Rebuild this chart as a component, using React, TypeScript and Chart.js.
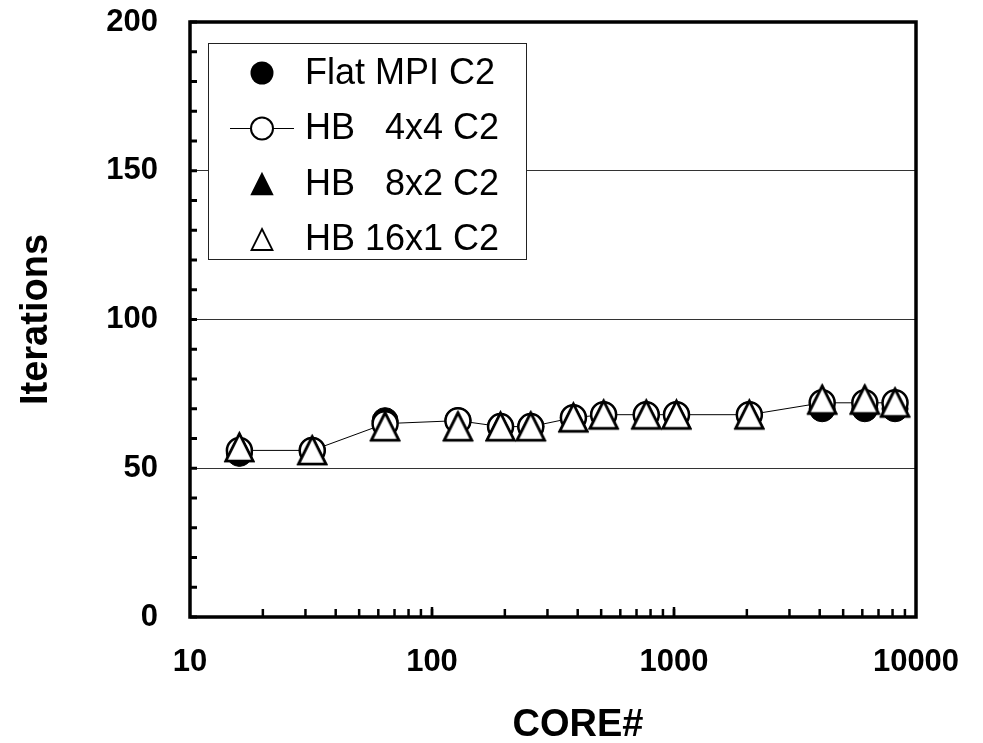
import React, { useEffect, useRef } from 'react';
import { Chart, registerables } from 'chart.js';

Chart.register(...registerables);

// ---- data ----
const cores = [16, 32, 64, 128, 192, 256, 384, 512, 768, 1024, 2048, 4096, 6144, 8192];
const flatMPI = [55, 56, 66, 66, 64, 64, 67, 68, 68, 68, 68, 70, 70, 70];
const hb4x4 = [56, 56, 65, 66, 64, 64, 67, 68, 68, 68, 68, 72, 72, 72];
const hb8x2 = [57, 56, 64, 64, 64, 64, 67, 68, 68, 68, 68, 73, 73, 72];
const hb16x1 = [57, 56, 64, 64, 64, 64, 67, 68, 68, 68, 68, 73, 73, 72];
const seriesNames = ['Flat MPI C2', 'HB   4x4 C2', 'HB   8x2 C2', 'HB 16x1 C2'];
const xTickValues = [10, 100, 1000, 10000];
const xTickLabels = ['10', '100', '1000', '10000'];
const yTickValues = [0, 50, 100, 150, 200];
const yTickLabels = ['0', '50', '100', '150', '200'];
const xTitle = 'CORE#';
const yTitle = 'Iterations';

const FONT = '"Liberation Sans", Arial, sans-serif';

function triangleCanvas(w: number, h: number, lw: number, filled: boolean, pad: number) {
  const c = document.createElement('canvas');
  c.width = w + pad * 2;
  c.height = h + pad * 2;
  const ctx = c.getContext('2d')!;
  ctx.beginPath();
  ctx.moveTo(pad + w / 2, pad);
  ctx.lineTo(pad + w, pad + h);
  ctx.lineTo(pad, pad + h);
  ctx.closePath();
  ctx.fillStyle = filled ? '#000' : '#fff';
  ctx.fill();
  ctx.lineWidth = lw;
  ctx.strokeStyle = '#000';
  ctx.lineJoin = 'miter';
  ctx.stroke();
  return c;
}

function drawTri(ctx: CanvasRenderingContext2D, cx: number, cy: number, w: number, h: number, filled: boolean, lw: number) {
  ctx.beginPath();
  ctx.moveTo(cx, cy - h / 2);
  ctx.lineTo(cx + w / 2, cy + h / 2);
  ctx.lineTo(cx - w / 2, cy + h / 2);
  ctx.closePath();
  ctx.fillStyle = filled ? '#000' : '#fff';
  ctx.fill();
  ctx.lineWidth = lw;
  ctx.strokeStyle = '#000';
  ctx.stroke();
}

const decorPlugin = {
  id: 'decor',
  beforeDraw(chart: any) {
    const { ctx, width, height } = chart;
    ctx.save();
    ctx.fillStyle = '#fff';
    ctx.fillRect(0, 0, width, height);
    ctx.restore();
  },
  afterDraw(chart: any) {
    const { ctx, chartArea: a, scales } = chart;
    const xs = scales.x;
    const ys = scales.y;
    ctx.save();
    ctx.strokeStyle = '#000';
    // y ticks (inward)
    ctx.lineWidth = 3;
    for (let v = ys.min; v <= ys.max; v += 10) {
      const py = ys.getPixelForValue(v);
      ctx.beginPath();
      ctx.moveTo(a.left, py);
      ctx.lineTo(a.left + 7, py);
      ctx.stroke();
    }
    // x ticks (inward, log minor)
    ctx.lineWidth = 2.5;
    for (let d = xs.min; d < xs.max; d *= 10) {
      for (let m = 1; m <= 10; m++) {
        const v = d * m;
        if (v <= xs.min || v >= xs.max) continue;
        const px = xs.getPixelForValue(v);
        const len = m === 10 ? 10 : 8;
        ctx.beginPath();
        ctx.moveTo(px, a.bottom);
        ctx.lineTo(px, a.bottom - len);
        ctx.stroke();
      }
    }
    // frame
    ctx.lineWidth = 3.5;
    ctx.strokeRect(a.left, a.top, a.right - a.left, a.bottom - a.top);

    // x axis title
    ctx.fillStyle = '#000';
    ctx.font = `bold 38px ${FONT}`;
    ctx.textAlign = 'center';
    ctx.textBaseline = 'middle';
    ctx.fillText(xTitle, 578, 726);

    // legend
    const bx = 208, by = 43, bw = 318, bh = 216;
    ctx.fillStyle = '#fff';
    ctx.fillRect(bx, by, bw, bh);
    ctx.lineWidth = 1;
    ctx.strokeStyle = '#222';
    ctx.strokeRect(bx + 0.5, by + 0.5, bw, bh);
    const mx = 262;
    const rows = seriesNames.map((_, i) => 73 + i * 55.5);
    // 0: filled circle
    ctx.fillStyle = '#000';
    ctx.beginPath();
    ctx.arc(mx, rows[0], 11.5, 0, Math.PI * 2);
    ctx.fill();
    // 1: line + open circle
    ctx.strokeStyle = '#000';
    ctx.lineWidth = 1;
    ctx.beginPath();
    ctx.moveTo(230, rows[1]);
    ctx.lineTo(294, rows[1]);
    ctx.stroke();
    ctx.fillStyle = '#fff';
    ctx.lineWidth = 2;
    ctx.beginPath();
    ctx.arc(mx, rows[1], 11, 0, Math.PI * 2);
    ctx.fill();
    ctx.stroke();
    // 2: filled triangle
    drawTri(ctx, mx, rows[2], 21, 21, true, 1.5);
    // 3: open triangle
    drawTri(ctx, mx, rows[3], 21, 21, false, 1.8);
    // text
    ctx.fillStyle = '#000';
    ctx.font = `36px ${FONT}`;
    ctx.textBaseline = 'middle';
    ctx.textAlign = 'left';
    seriesNames.forEach((n, i) => ctx.fillText(n, 305, rows[i] + 1));
    ctx.restore();
  },
};

export default function App() {
  const ref = useRef<HTMLCanvasElement>(null);

  useEffect(() => {
    if (!ref.current) return;
    const openTri = triangleCanvas(27, 27, 2.6, false, 4);
    const fillTri = triangleCanvas(27, 27, 2.6, true, 4);
    const pts = (arr: number[]) => cores.map((c, i) => ({ x: c, y: arr[i] }));

    const chart = new Chart(ref.current, {
      type: 'scatter',
      data: {
        datasets: [
          {
            label: seriesNames[0],
            data: pts(flatMPI),
            showLine: false,
            pointStyle: 'circle',
            pointRadius: 13,
            pointBackgroundColor: '#000',
            pointBorderColor: '#000',
            pointBorderWidth: 1,
            order: 4,
          },
          {
            label: seriesNames[1],
            data: pts(hb4x4),
            showLine: true,
            borderColor: '#000',
            borderWidth: 1,
            pointStyle: 'circle',
            pointRadius: 12.5,
            pointBackgroundColor: '#fff',
            pointBorderColor: '#000',
            pointBorderWidth: 2.5,
            order: 3,
          },
          {
            label: seriesNames[2],
            data: pts(hb8x2),
            showLine: false,
            pointStyle: fillTri as any,
            pointRadius: 14,
            order: 2,
          },
          {
            label: seriesNames[3],
            data: pts(hb16x1),
            showLine: false,
            pointStyle: openTri as any,
            pointRadius: 14,
            order: 1,
          },
        ],
      },
      options: {
        animation: false,
        responsive: false,
        events: [],
        layout: { padding: { top: 22, right: 67, left: 0, bottom: 0 } },
        plugins: {
          legend: { display: false },
          tooltip: { enabled: false },
        },
        scales: {
          x: {
            type: 'logarithmic',
            min: 10,
            max: 10000,
            afterBuildTicks: (s: any) => {
              s.ticks = xTickValues.map((v) => ({ value: v }));
            },
            afterFit: (s: any) => {
              s.height = 126;
              s.paddingLeft = 0;
              s.paddingRight = 0;
              s.paddingTop = 0;
              s.paddingBottom = 0;
            },
            ticks: {
              callback: (_v: any, i: number) => xTickLabels[i],
              font: { family: FONT, size: 31, weight: 'bold', lineHeight: 1.2 },
              color: '#000',
              padding: 27,
              maxRotation: 0,
              autoSkip: false,
            },
            grid: { display: false, drawTicks: false },
            border: { display: false },
            title: { display: false, text: xTitle },
          },
          y: {
            type: 'linear',
            min: 0,
            max: 200,
            afterBuildTicks: (s: any) => {
              s.ticks = yTickValues.map((v) => ({ value: v }));
            },
            afterFit: (s: any) => {
              s.width = 190;
              s.paddingLeft = 0;
              s.paddingRight = 0;
              s.paddingTop = 0;
              s.paddingBottom = 0;
            },
            ticks: {
              callback: (_v: any, i: number) => yTickLabels[i],
              font: { family: FONT, size: 31, weight: 'bold', lineHeight: 1.2 },
              color: '#000',
              padding: 32,
            },
            grid: {
              drawTicks: false,
              lineWidth: 1,
              color: (c: any) =>
                c.tick && c.tick.value > 0 && c.tick.value < 200 ? '#333' : 'rgba(0,0,0,0)',
            },
            border: { display: false },
            title: {
              display: true,
              text: yTitle,
              color: '#000',
              font: { family: FONT, size: 38, weight: 'bold', lineHeight: 1 },
              padding: { top: 18, bottom: 0 },
            },
          },
        },
      } as any,
      plugins: [decorPlugin],
    });
    return () => chart.destroy();
  }, []);

  return (
    <div style={{ position: 'absolute', left: 0, top: 0, width: 983, height: 743 }}>
      <canvas ref={ref} width={983} height={743} style={{ display: 'block' }} />
    </div>
  );
}
